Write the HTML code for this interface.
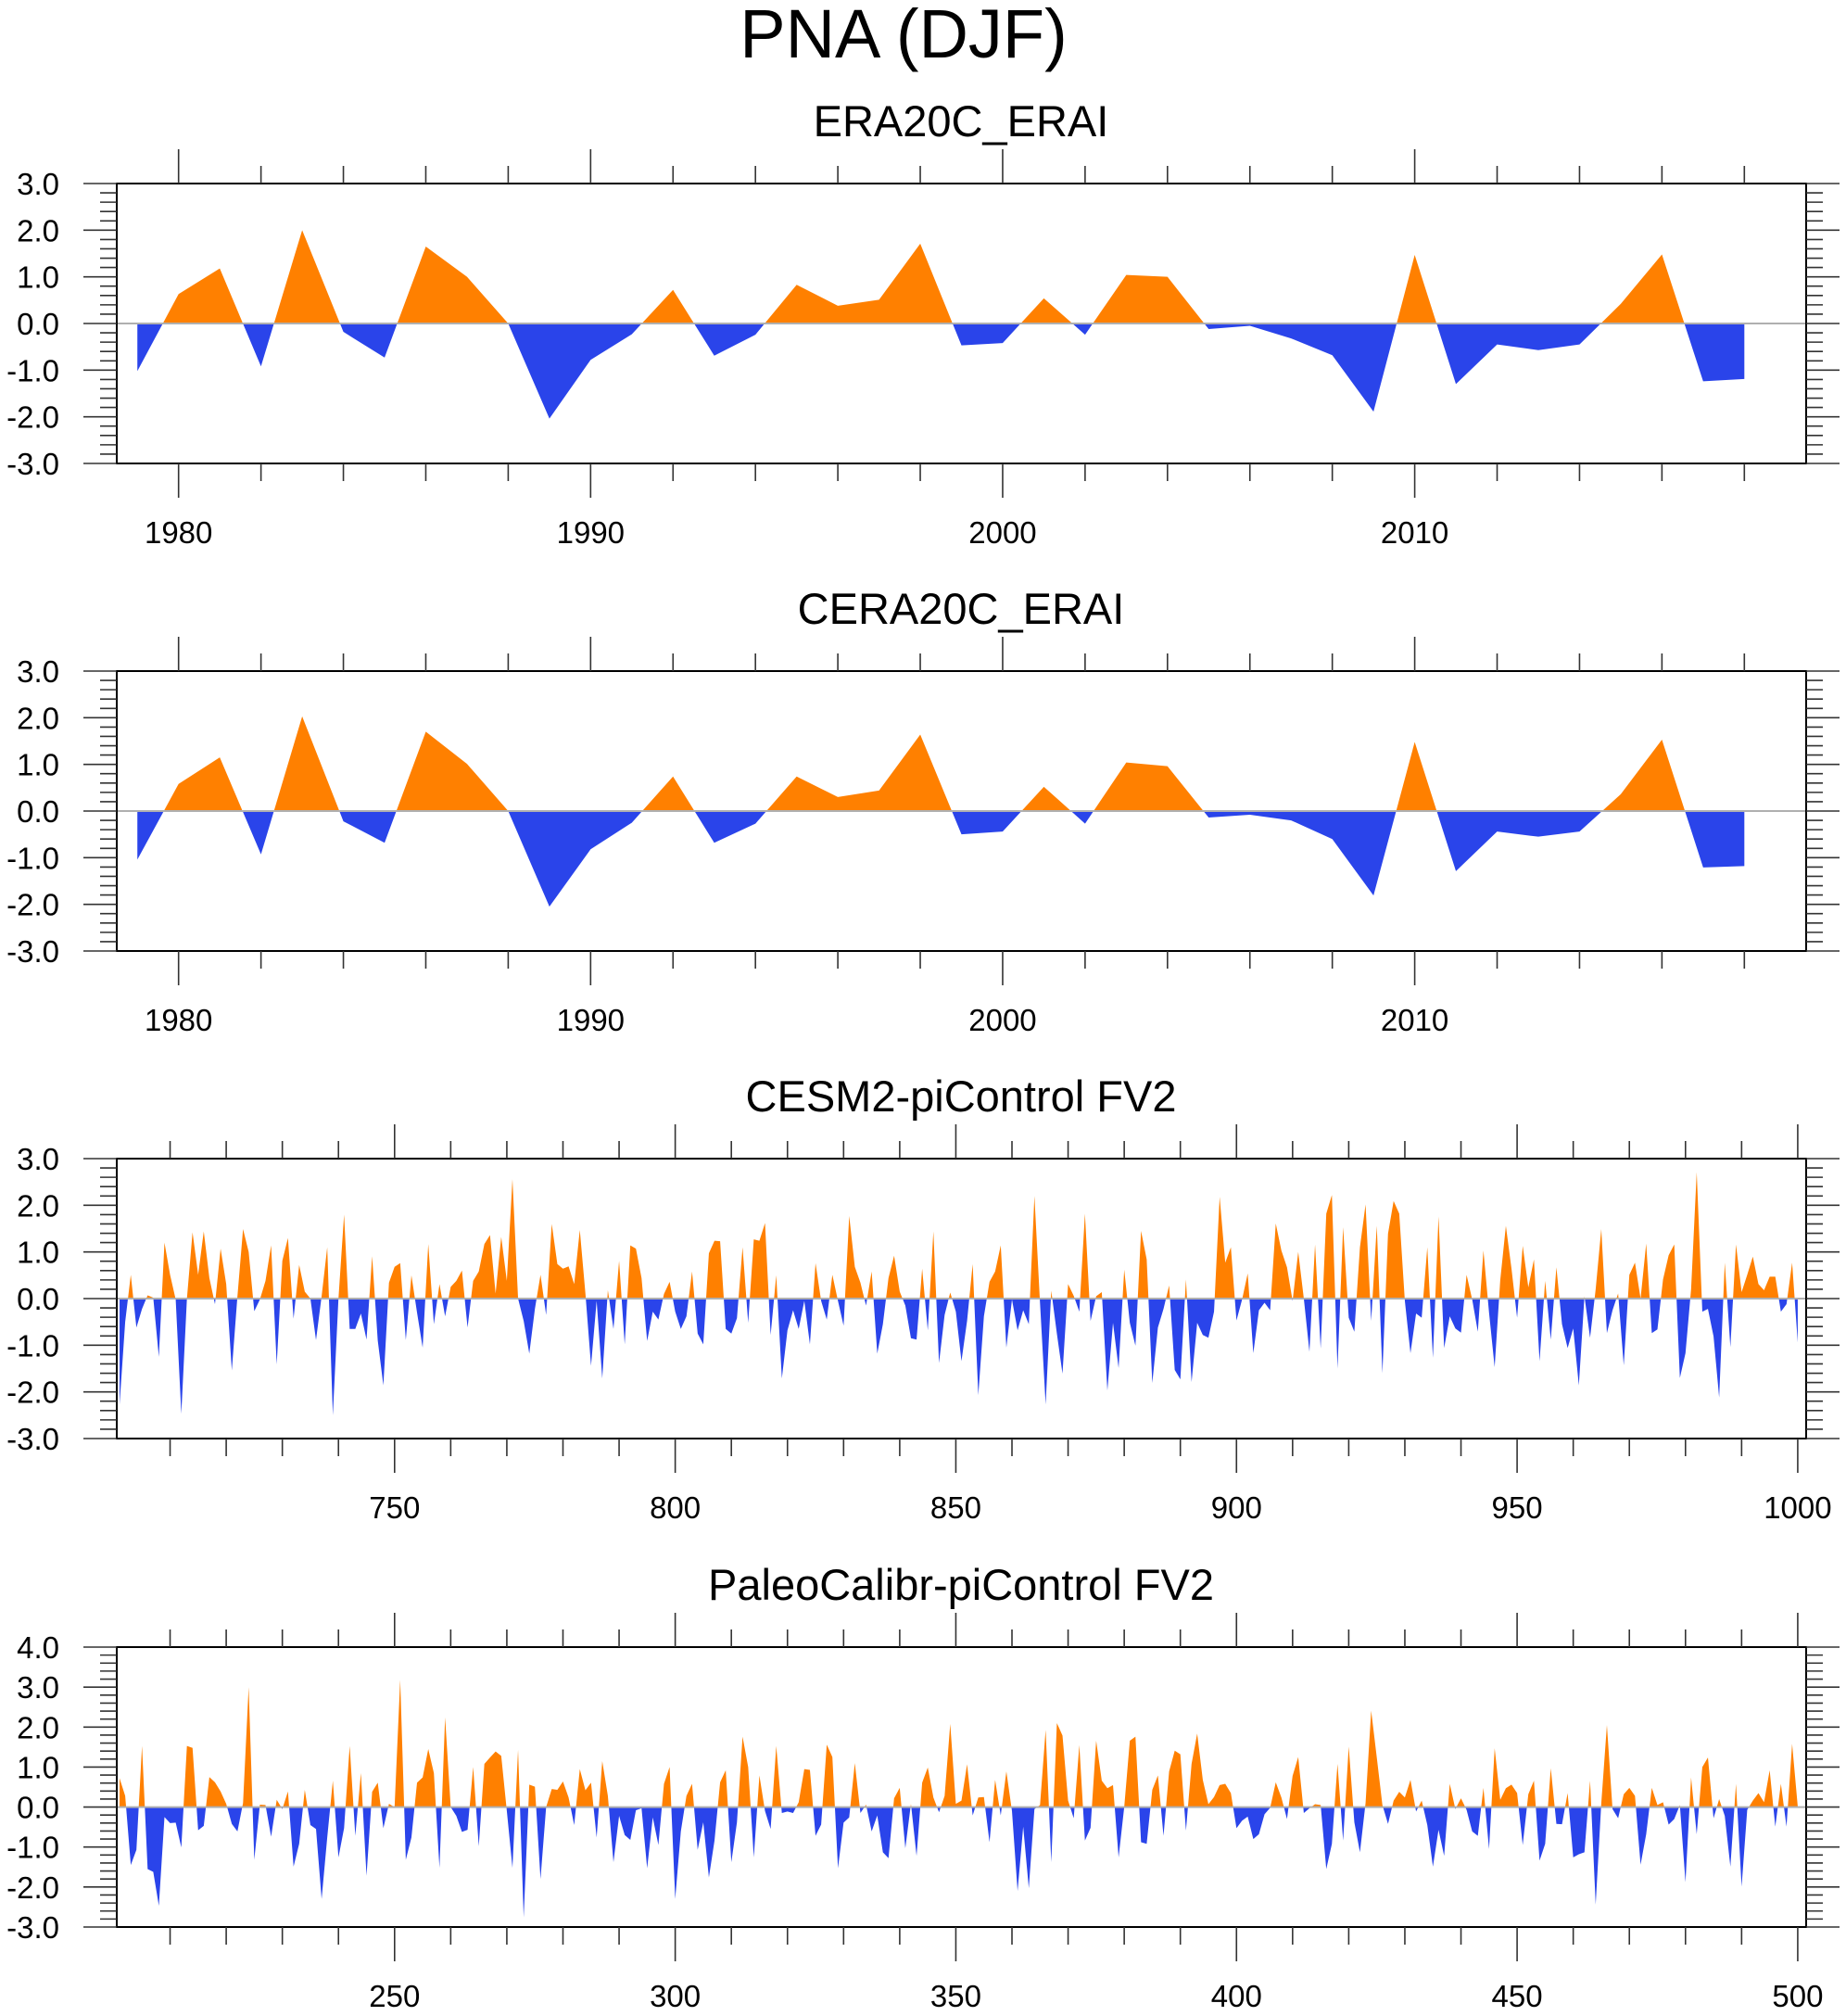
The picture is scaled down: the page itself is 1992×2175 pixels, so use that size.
<!DOCTYPE html>
<html><head><meta charset="utf-8"><style>
html,body{margin:0;padding:0;background:#fff;}
svg{display:block;font-family:"Liberation Sans",sans-serif;}
</style></head><body>
<svg id="chart" width="1992" height="2175" viewBox="0 0 1992 2175" xmlns="http://www.w3.org/2000/svg">
<text x="975" y="62" font-size="74" text-anchor="middle">PNA (DJF)</text>
</svg>
<script>
const era20cValues=[-1.02,0.63,1.18,-0.92,2.0,-0.18,-0.73,1.65,1.0,0.0,-2.04,-0.78,-0.23,0.72,-0.69,-0.24,0.83,0.38,0.51,1.71,-0.47,-0.42,0.54,-0.24,1.04,1.0,-0.12,-0.05,-0.32,-0.68,-1.89,1.47,-1.30,-0.45,-0.57,-0.45,0.42,1.48,-1.24,-1.19];
const cera20cValues=[-1.04,0.58,1.15,-0.93,2.03,-0.22,-0.68,1.70,1.01,0.0,-2.05,-0.82,-0.25,0.74,-0.68,-0.27,0.74,0.30,0.44,1.64,-0.5,-0.44,0.52,-0.27,1.04,0.96,-0.14,-0.08,-0.2,-0.6,-1.81,1.48,-1.29,-0.44,-0.55,-0.44,0.36,1.53,-1.21,-1.18];
const yearStart=1979;
const cesmValues=[-2.27,-0.5,0.51,-0.62,-0.22,0.07,0.02,-1.25,1.2,0.51,-0.02,-2.47,0.0,1.42,0.51,1.44,0.44,-0.12,1.07,0.31,-1.54,0.05,1.49,1.0,-0.27,-0.02,0.38,1.14,-1.41,0.81,1.3,-0.43,0.72,0.15,0.0,-0.89,0.05,1.1,-2.5,0.0,1.8,-0.65,-0.65,-0.32,-0.88,0.91,-0.9,-1.86,0.34,0.68,0.76,-0.89,0.5,-0.3,-1.05,1.17,-0.55,0.31,-0.38,0.25,0.38,0.6,-0.62,0.38,0.58,1.17,1.36,0.11,1.32,0.38,2.56,0.0,-0.48,-1.18,-0.22,0.51,-0.35,1.6,0.74,0.64,0.69,0.31,1.47,0.11,-1.44,-0.05,-1.71,0.18,-0.65,0.81,-0.98,1.14,1.07,0.44,-0.91,-0.28,-0.45,
0.1,0.36,-0.28,-0.65,-0.38,0.58,-0.75,-0.98,0.97,1.24,1.23,-0.65,-0.75,-0.42,1.1,-0.52,1.27,1.24,1.62,-0.78,0.5,-1.71,-0.68,-0.25,-0.65,-0.05,-0.98,0.76,-0.05,-0.45,0.51,-0.05,-0.58,1.77,0.68,0.34,-0.15,0.58,-1.18,-0.55,0.44,0.92,0.15,-0.15,-0.85,-0.88,0.64,-0.68,1.44,-1.38,-0.35,0.13,-0.28,-1.34,-0.48,0.74,-2.07,-0.38,0.36,0.58,1.14,-1.05,-0.02,-0.68,-0.25,-0.55,2.2,-0.1,-2.27,0.17,-0.75,-1.61,0.31,0.06,-0.28,1.82,-0.48,0.05,0.14,-1.97,-0.52,-1.49,0.62,-0.52,-1.01,1.45,0.84,-1.81,-0.62,-0.22,0.28,-1.53,-1.73,0.41,-1.79,-0.52,-0.78,
-0.84,-0.28,2.18,0.77,1.1,-0.47,-0.02,0.54,-1.17,-0.25,-0.09,-0.25,1.61,1.03,0.67,-0.05,1.0,0.0,-1.14,1.16,-1.07,1.82,2.22,-1.5,1.53,-0.41,-0.71,1.1,2.02,-0.48,1.56,-1.6,1.39,2.09,1.82,-0.05,-1.17,-0.32,-0.41,1.1,-1.27,1.76,-1.06,-0.38,-0.64,-0.73,0.51,-0.02,-0.71,1.03,-0.3,-1.47,0.4,1.56,0.64,-0.41,1.13,0.24,0.84,-1.34,0.38,-0.88,0.67,-0.55,-1.06,-0.64,-1.86,0.05,-0.84,0.2,1.49,-0.74,-0.25,0.11,-1.43,0.51,0.77,0.0,1.18,-0.74,-0.66,0.41,0.93,1.16,-1.7,-1.17,0.2,2.71,-0.28,-0.22,-0.81,-2.12,0.77,-1.04,1.16,0.14,0.51,0.9,0.31,0.18,0.47,0.47,-0.28,-0.12,0.77,-0.94];
const cesmStart=701;
const paleoValues=[0.72,0.28,-1.45,-1.07,1.53,-1.55,-1.62,-2.47,-0.25,-0.4,-0.39,-1.01,1.53,1.48,-0.58,-0.47,0.75,0.62,0.39,0.08,-0.42,-0.61,0.1,3.0,-1.32,0.06,0.05,-0.74,0.18,-0.05,0.39,-1.49,-0.92,0.43,-0.45,-0.55,-2.3,-0.76,0.66,-1.26,-0.53,1.53,-0.72,0.85,-1.72,0.38,0.61,-0.53,0.08,0.0,3.18,-1.32,-0.76,0.61,0.74,1.45,0.85,-1.52,2.24,0.0,-0.22,-0.62,-0.57,1.0,-0.98,1.08,1.24,1.39,1.28,-0.1,-1.52,1.43,-2.76,0.56,0.51,-1.8,0.0,0.45,0.43,0.64,0.24,-0.45,0.95,0.42,0.61,-0.76,1.15,0.28,-1.38,-0.22,-0.7,-0.82,-0.08,-0.03,-1.53,-0.26,-0.95,0.58,1.0,-2.3,
-0.61,0.28,0.58,-1.07,-0.38,-1.76,-0.84,0.62,0.92,-1.38,-0.38,1.76,1.0,-1.26,0.79,-0.1,-0.55,1.53,-0.15,-0.11,-0.15,0.12,0.95,0.93,-0.72,-0.44,1.56,1.25,-1.53,-0.39,-0.26,1.1,-0.15,0.06,-0.61,-0.21,-1.13,-1.28,0.22,0.48,-1.03,0.08,-1.22,0.61,0.99,0.24,-0.13,0.28,2.08,0.08,0.16,1.07,-0.21,0.24,0.25,-0.88,0.68,-0.21,0.89,-0.1,-2.1,-0.49,-2.03,-0.05,0.05,1.93,-1.38,2.1,1.79,0.16,-0.28,1.55,-0.84,-0.52,1.66,0.66,0.47,0.55,-1.26,0.0,1.66,1.76,-0.88,-0.92,0.43,0.79,-0.72,0.89,1.41,1.32,-0.59,1.08,1.84,0.68,0.07,0.25,0.55,0.58,0.35,-0.53,
-0.34,-0.24,-0.8,-0.68,-0.18,-0.02,0.62,0.24,-0.3,0.78,1.25,-0.15,-0.03,0.07,0.05,-1.55,-0.92,1.08,-0.84,1.51,-0.38,-1.13,0.1,2.41,1.24,0.05,-0.42,0.16,0.38,0.24,0.68,-0.11,0.16,-0.45,-1.49,-0.57,-1.22,0.58,-0.05,0.22,-0.07,-0.61,-0.72,0.48,-1.05,1.47,0.18,0.47,0.56,0.35,-0.95,0.32,0.66,-1.34,-0.92,0.97,-0.42,-0.43,0.35,-1.26,-1.18,-1.13,0.66,-2.44,0.1,2.05,-0.05,-0.28,0.32,0.48,0.28,-1.44,-0.68,0.48,0.05,0.12,-0.44,-0.3,0.05,-1.88,0.74,-0.68,1.0,1.24,-0.28,0.2,-0.22,-1.49,0.58,-1.99,-0.07,0.16,0.35,0.12,0.92,-0.49,0.58,-0.49,1.58,0.02];
const paleoStart=201;
const eraTickLabels=["1980","1990","2000","2010"];
const cesmTickLabels=["750","800","850","900","950","1000"];
const paleoTickLabels=["250","300","350","400","450","500"];
const yTicks3=["3.0","2.0","1.0","0.0","-1.0","-2.0","-3.0"];
const yTicks4=["4.0","3.0","2.0","1.0","0.0","-1.0","-2.0","-3.0"];

const svg=document.getElementById('chart');
const NS='http://www.w3.org/2000/svg';
function mk(tag,attrs,parent){const e=document.createElementNS(NS,tag);for(const k in attrs)e.setAttribute(k,attrs[k]);(parent||svg).appendChild(e);return e;}

const L=126,R=1949,H=302;
function panel(cfg){
  const g=mk('g',{});
  
  
  const T=cfg.top,B=T+H;
  const xs=v=>L+(v-cfg.xmin)/(cfg.xmax-cfg.xmin)*(R-L);
  const ys=v=>T+(cfg.ymax-v)/(cfg.ymax-cfg.ymin)*H;
  const st=mk('text',{x:1037,y:T-51,'font-size':47,'text-anchor':'middle'},g);
  st.textContent=cfg.title;
  
  
  // area
  const y0=ys(0);
  let pts=xs(cfg.start)+','+y0;
  cfg.values.forEach((v,i)=>{pts+=' '+xs(cfg.start+i)+','+ys(v);});
  pts+=' '+xs(cfg.start+cfg.values.length-1)+','+y0;
  const cid='c'+cfg.id;
  const defs=mk('defs',{},g);
  const cpA=mk('clipPath',{id:cid+'a'},defs);mk('rect',{x:L,y:T,width:R-L,height:y0-T},cpA);
  const cpB=mk('clipPath',{id:cid+'b'},defs);mk('rect',{x:L,y:y0,width:R-L,height:B-y0},cpB);
  const pa=mk('polygon',{points:pts,fill:'#ff8000','clip-path':'url(#'+cid+'a)'},g);
  
  
  const pb=mk('polygon',{points:pts,fill:'#2a44ea','clip-path':'url(#'+cid+'b)'},g);
  
  
  mk('line',{x1:L,x2:R,y1:y0,y2:y0,stroke:'#b0b0b0','stroke-width':2},g);
  // frame
  const fr=mk('rect',{x:L,y:T,width:R-L,height:H,fill:'none',stroke:'#000','stroke-width':2},g);
  
  
  // x ticks
  for(let v=cfg.minorStart;v<=cfg.xmax;v+=cfg.minorStep){
    const x=xs(v);const major=((v-cfg.majorStart)%cfg.majorStep===0)&&v>=cfg.majorStart;
    const len=major?37:19;
    mk('line',{x1:x,x2:x,y1:T,y2:T-len,stroke:'#333','stroke-width':1.6},g);
    mk('line',{x1:x,x2:x,y1:B,y2:B+len,stroke:'#333','stroke-width':1.6},g);
  }
  cfg.xlabels.forEach((lab,i)=>{
    const t=mk('text',{x:xs(cfg.majorStart+i*cfg.majorStep),y:B+86,'font-size':33,'text-anchor':'middle'},g);
    t.textContent=lab;
    
    
  });
  // y ticks
  for(let k=Math.round(cfg.ymin*5);k<=Math.round(cfg.ymax*5);k++){
    const y=ys(k/5);const major=k%5===0;const len=major?36:18;
    mk('line',{x1:L,x2:L-len,y1:y,y2:y,stroke:'#333','stroke-width':1.6},g);
    mk('line',{x1:R,x2:R+len,y1:y,y2:y,stroke:'#333','stroke-width':1.6},g);
  }
  cfg.ylabels.forEach((lab,i)=>{
    const t=mk('text',{x:64,y:ys(cfg.ymax-i)+12,'font-size':33,'text-anchor':'end'},g);
    t.textContent=lab;
    
    
  });
}
panel({id:1,name:'era20c-erai-panel',title:'ERA20C_ERAI',top:198,values:era20cValues,start:yearStart,xmin:1978.5,xmax:2019.5,ymin:-3,ymax:3,minorStart:1980,minorStep:2,majorStart:1980,majorStep:10,xlabels:eraTickLabels,ylabels:yTicks3});
panel({id:2,name:'cera20c-erai-panel',title:'CERA20C_ERAI',top:724,values:cera20cValues,start:yearStart,xmin:1978.5,xmax:2019.5,ymin:-3,ymax:3,minorStart:1980,minorStep:2,majorStart:1980,majorStep:10,xlabels:eraTickLabels,ylabels:yTicks3});
panel({id:3,name:'cesm2-picontrol-panel',title:'CESM2-piControl FV2',top:1250,values:cesmValues,start:cesmStart,xmin:700.5,xmax:1001.5,ymin:-3,ymax:3,minorStart:710,minorStep:10,majorStart:750,majorStep:50,xlabels:cesmTickLabels,ylabels:yTicks3});
panel({id:4,name:'paleocalibr-picontrol-panel',title:'PaleoCalibr-piControl FV2',top:1777,values:paleoValues,start:paleoStart,xmin:200.5,xmax:501.5,ymin:-3,ymax:4,minorStart:210,minorStep:10,majorStart:250,majorStep:50,xlabels:paleoTickLabels,ylabels:yTicks4});
</script>
</body></html>
